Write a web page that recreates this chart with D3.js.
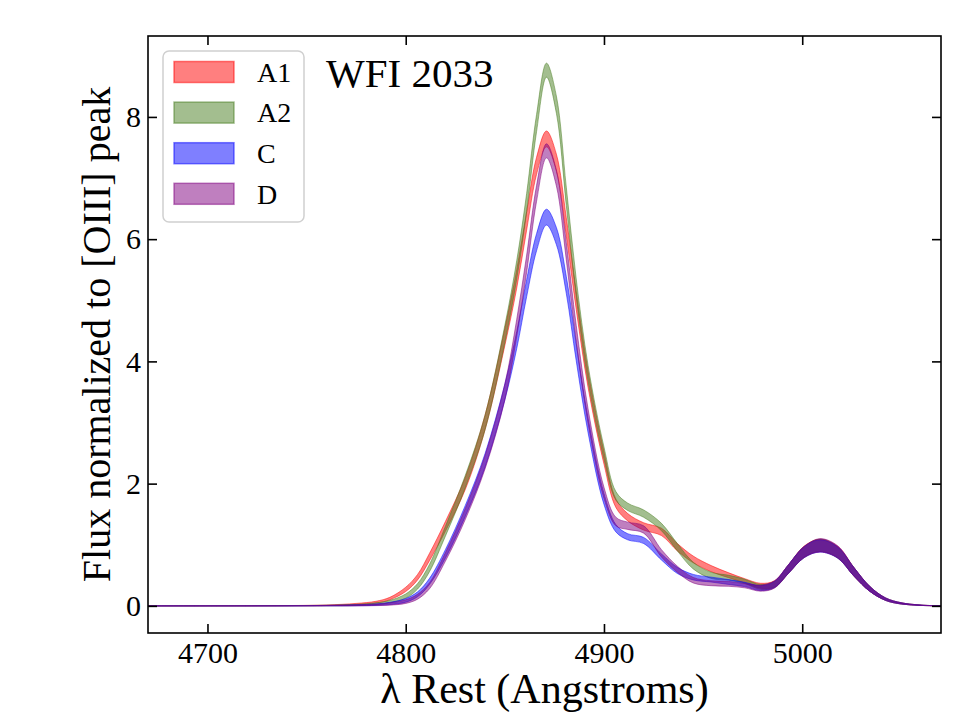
<!DOCTYPE html>
<html>
<head>
<meta charset="utf-8">
<script src="https://cdn.jsdelivr.net/npm/d3@7"></script>
<style>
body { margin: 0; background: #fff; }
text { font-family: "Liberation Serif", "DejaVu Serif", serif; fill: #000; }
</style>
</head>
<body>
<div id="chart"></div>
<script>
const width = 960;
const height = 720;
const marginTop = 36;
const marginRight = 19;
const marginBottom = 87;
const marginLeft = 148;

// rest wavelength samples (Angstroms)
const wave = [4670, 4740, 4760, 4775, 4785, 4792, 4800, 4806, 4812, 4820,
              4830, 4840, 4850, 4856, 4861, 4866, 4871, 4876, 4881, 4886,
              4892, 4900, 4906, 4912, 4920, 4929, 4937, 4945, 4954, 4963,
              4971, 4979, 4986, 4993, 5001, 5009, 5018, 5026, 5034, 5042,
              5050, 5060, 5070];

// normalized flux (band centre) and half-width for each image
const a1Mid = [0, 0.003, 0.01, 0.03, 0.06, 0.12, 0.27, 0.47, 0.80, 1.30,
               2.0, 3.0, 4.4, 5.35, 6.3, 7.2, 7.64, 7.25, 6.2, 5.0,
               3.7, 2.42, 1.68, 1.45, 1.30, 1.21, 0.96, 0.76, 0.61, 0.50,
               0.41, 0.33, 0.36, 0.60, 0.89, 0.99, 0.88, 0.56, 0.28, 0.11,
               0.04, 0.01, 0];
const a1Err = [0, 0.002, 0.005, 0.01, 0.015, 0.02, 0.035, 0.045, 0.06, 0.08,
               0.10, 0.12, 0.14, 0.15, 0.15, 0.14, 0.13, 0.14, 0.15, 0.15,
               0.13, 0.10, 0.07, 0.06, 0.06, 0.06, 0.06, 0.055, 0.05, 0.04,
               0.035, 0.04, 0.05, 0.07, 0.09, 0.10, 0.09, 0.07, 0.04, 0.02,
               0.01, 0.003, 0];

const a2Mid = [0, 0.002, 0.006, 0.015, 0.035, 0.07, 0.16, 0.32, 0.62, 1.22,
               2.03, 3.0, 4.45, 5.5, 6.6, 7.9, 8.765, 8.2, 6.7, 5.2,
               3.8, 2.5, 1.8, 1.62, 1.51, 1.29, 0.96, 0.66, 0.50, 0.46,
               0.40, 0.31, 0.35, 0.60, 0.88, 0.99, 0.87, 0.56, 0.28, 0.11,
               0.04, 0.01, 0];
const a2Err = [0, 0.002, 0.005, 0.01, 0.015, 0.02, 0.035, 0.045, 0.06, 0.08,
               0.10, 0.12, 0.14, 0.15, 0.15, 0.14, 0.115, 0.14, 0.15, 0.15,
               0.13, 0.10, 0.07, 0.06, 0.06, 0.06, 0.06, 0.055, 0.05, 0.04,
               0.035, 0.04, 0.05, 0.07, 0.09, 0.10, 0.09, 0.07, 0.04, 0.02,
               0.01, 0.003, 0];

const cMid = [0, 0.001, 0.004, 0.01, 0.02, 0.04, 0.09, 0.19, 0.40, 0.85,
              1.55, 2.38, 3.5, 4.35, 5.2, 5.95, 6.36, 6.05, 5.25, 4.15,
              2.95, 1.75, 1.27, 1.13, 1.07, 0.80, 0.58, 0.47, 0.43, 0.39,
              0.35, 0.29, 0.35, 0.60, 0.88, 0.98, 0.87, 0.56, 0.28, 0.11,
              0.04, 0.01, 0];
const cErr = [0, 0.001, 0.004, 0.008, 0.012, 0.018, 0.03, 0.04, 0.05, 0.07,
              0.09, 0.11, 0.13, 0.14, 0.14, 0.14, 0.13, 0.14, 0.14, 0.14,
              0.12, 0.09, 0.06, 0.05, 0.05, 0.05, 0.05, 0.045, 0.04, 0.04,
              0.035, 0.04, 0.05, 0.07, 0.09, 0.10, 0.09, 0.07, 0.04, 0.02,
              0.01, 0.003, 0];

const dMid = [0, 0.001, 0.003, 0.008, 0.016, 0.03, 0.07, 0.15, 0.33, 0.80,
              1.50, 2.35, 3.5, 4.55, 5.6, 6.75, 7.445, 7.0, 5.8, 4.45,
              3.1, 1.85, 1.38, 1.31, 1.25, 0.86, 0.60, 0.42, 0.37, 0.36,
              0.33, 0.29, 0.35, 0.60, 0.88, 0.99, 0.88, 0.56, 0.28, 0.11,
              0.04, 0.01, 0];
const dErr = [0, 0.001, 0.003, 0.008, 0.012, 0.018, 0.03, 0.04, 0.05, 0.07,
              0.09, 0.11, 0.13, 0.14, 0.14, 0.13, 0.115, 0.13, 0.14, 0.14,
              0.12, 0.09, 0.07, 0.06, 0.06, 0.06, 0.05, 0.045, 0.04, 0.04,
              0.035, 0.05, 0.06, 0.07, 0.09, 0.11, 0.10, 0.07, 0.04, 0.02,
              0.01, 0.003, 0];

const names = ["A1", "A2", "C", "D"];
const colors = ["#ff0000", "#487d20", "#0000ff", "#800080"];
const xTicks = [4700, 4800, 4900, 5000];
const yTicks = [0, 2, 4, 6, 8];

const series = [
    {name: names[0], color: colors[0], mid: a1Mid, err: a1Err},
    {name: names[1], color: colors[1], mid: a2Mid, err: a2Err},
    {name: names[2], color: colors[2], mid: cMid, err: cErr},
    {name: names[3], color: colors[3], mid: dMid, err: dErr}
];

const svg = d3.select("#chart")
    .append("svg")
    .attr("width", width)
    .attr("height", height);

const x = d3.scaleLinear()
    .domain([4670, 5070])
    .range([marginLeft, width - marginRight]);

const yMax = d3.max(series, s => d3.max(s.mid, (m, i) => m + s.err[i]));
const pad = yMax * 0.05;
const y = d3.scaleLinear()
    .domain([-pad, yMax + pad])
    .range([height - marginBottom, marginTop]);

const area = d3.area()
    .x(d => x(d.w))
    .y0(d => y(d.lo))
    .y1(d => y(d.hi))
    .curve(d3.curveCatmullRom.alpha(0.5));

series.forEach(s => {
    const pts = wave.map((w, i) => ({w: w, lo: s.mid[i] - s.err[i], hi: s.mid[i] + s.err[i]}));
    svg.append("path")
        .datum(pts)
        .attr("d", area)
        .attr("fill", s.color)
        .attr("fill-opacity", 0.5)
        .attr("stroke", s.color)
        .attr("stroke-opacity", 0.5)
        .attr("stroke-width", 1);
});

// axes, ticks pointing inward on all four sides
const fontTick = "30px";
svg.append("g")
    .attr("transform", `translate(0,${height - marginBottom})`)
    .call(d3.axisBottom(x).tickValues(xTicks).tickFormat(d3.format("d")).tickSizeInner(-9).tickSizeOuter(0).tickPadding(9))
    .call(g => g.select(".domain").remove())
    .call(g => g.selectAll("text").style("font-size", fontTick).style("font-family", "Liberation Serif"));

svg.append("g")
    .attr("transform", `translate(0,${marginTop})`)
    .call(d3.axisTop(x).tickValues(xTicks).tickSizeInner(-9).tickSizeOuter(0).tickFormat(""))
    .call(g => g.select(".domain").remove());

svg.append("g")
    .attr("transform", `translate(${marginLeft},0)`)
    .call(d3.axisLeft(y).tickValues(yTicks).tickFormat(d3.format("d")).tickSizeInner(-9).tickSizeOuter(0).tickPadding(7))
    .call(g => g.select(".domain").remove())
    .call(g => g.selectAll("text").style("font-size", fontTick).style("font-family", "Liberation Serif"));

svg.append("g")
    .attr("transform", `translate(${width - marginRight},0)`)
    .call(d3.axisRight(y).tickValues(yTicks).tickSizeInner(-9).tickSizeOuter(0).tickFormat(""))
    .call(g => g.select(".domain").remove());

svg.selectAll(".tick line").attr("stroke", "#000").attr("stroke-width", 1.6);

svg.append("rect")
    .attr("x", marginLeft)
    .attr("y", marginTop)
    .attr("width", width - marginLeft - marginRight)
    .attr("height", height - marginTop - marginBottom)
    .attr("fill", "none")
    .attr("stroke", "#000")
    .attr("stroke-width", 1.6);

// axis labels
svg.append("text")
    .attr("x", (marginLeft + width - marginRight) / 2)
    .attr("y", 703)
    .attr("text-anchor", "middle")
    .style("font-size", "42px")
    .text("λ Rest (Angstroms)");

svg.append("text")
    .attr("transform", `translate(110,${(marginTop + height - marginBottom) / 2}) rotate(-90)`)
    .attr("text-anchor", "middle")
    .style("font-size", "40px")
    .text("Flux normalized to [OIII] peak");

svg.append("text")
    .attr("x", 326)
    .attr("y", 87)
    .style("font-size", "41px")
    .text("WFI 2033");

// legend
const legend = svg.append("g").attr("transform", "translate(163,51)");
legend.append("rect")
    .attr("width", 141)
    .attr("height", 171)
    .attr("rx", 6)
    .attr("fill", "#fff")
    .attr("fill-opacity", 0.8)
    .attr("stroke", "#d0d0d0")
    .attr("stroke-width", 1.5);

const items = legend.selectAll(".item")
    .data(series)
    .enter()
    .append("g")
    .attr("class", "item")
    .attr("transform", (d, i) => `translate(11,${21 + i * 40.6})`);

items.append("rect")
    .attr("x", 0)
    .attr("y", -10.5)
    .attr("width", 60)
    .attr("height", 21)
    .attr("fill", d => d.color)
    .attr("fill-opacity", 0.5)
    .attr("stroke", d => d.color)
    .attr("stroke-opacity", 0.5)
    .attr("stroke-width", 1.5);

items.append("text")
    .attr("x", 83)
    .attr("y", 0)
    .attr("dy", "0.35em")
    .style("font-size", "28px")
    .text(d => d.name);
</script>
</body>
</html>
